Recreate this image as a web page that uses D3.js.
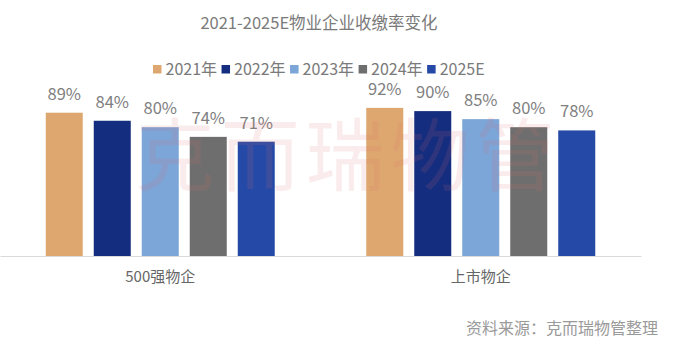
<!DOCTYPE html>
<html><head><meta charset="utf-8">
<script src="https://cdn.jsdelivr.net/npm/d3@7/dist/d3.min.js"></script>
<style>
html,body{margin:0;padding:0;background:#fff;}
svg{display:block;font-family:"Noto Sans CJK SC","Noto Sans",sans-serif;}
</style></head>
<body><svg id="c" width="678" height="358"></svg>
<script>
const categories = ["500强物企", "上市物企"];
const seriesNames = ["2021年", "2022年", "2023年", "2024年", "2025E"];
const values = {
  "2021年": [0.89, 0.92],
  "2022年": [0.84, 0.90],
  "2023年": [0.80, 0.85],
  "2024年": [0.74, 0.80],
  "2025E": [0.71, 0.78]
};
const colors = ["#dea76f", "#142d7f", "#7ca5d8", "#6e6e6e", "#2549a6"];
const title = "2021-2025E物业企业收缴率变化";
const source = "资料来源：克而瑞物管整理";
const watermark = "克而瑞物管";

const svg = d3.select("#c");
const plot = {left: 0, right: 641, top: 95, bottom: 256};
const groupWidth = 229;

const x0 = d3.scaleBand().domain(categories).range([plot.left, plot.right]).paddingInner(0).paddingOuter(0);
const x1 = d3.scaleBand().domain(seriesNames).range([0, groupWidth]).paddingInner(0.229).paddingOuter(0);
const groupOffset = (x0.bandwidth() - groupWidth) / 2;
const y = d3.scaleLinear().domain([0, 1]).range([plot.bottom, plot.top]);
const color = d3.scaleOrdinal().domain(seriesNames).range(colors);

// title
svg.append("text").attr("x", 319).attr("y", 29).attr("text-anchor", "middle")
  .attr("font-size", 16.5).attr("fill", "#7a7a7a").text(title);

// legend
const lg = svg.append("g");
let lx = 153;
seriesNames.forEach(s => {
  lg.append("rect").attr("x", lx).attr("y", 65).attr("width", 8.5).attr("height", 8.5).attr("fill", color(s));
  const t = lg.append("text").attr("x", lx + 12.5).attr("y", 75).attr("font-size", 16).attr("fill", "#7a7a7a").text(s);
  lx += 12.5 + t.node().getComputedTextLength() + 4.5;
});

// bars
const groups = svg.append("g").selectAll("g").data(categories).join("g")
  .attr("transform", d => `translate(${x0(d) + groupOffset},0)`);
groups.selectAll("rect").data((d, i) => seriesNames.map(s => ({s, v: values[s][i]})))
  .join("rect")
  .attr("x", d => x1(d.s)).attr("width", x1.bandwidth())
  .attr("y", d => y(d.v)).attr("height", d => y(0) - y(d.v))
  .attr("fill", d => color(d.s));
groups.selectAll("text").data((d, i) => seriesNames.map(s => ({s, v: values[s][i]})))
  .join("text")
  .attr("x", d => x1(d.s) + x1.bandwidth() / 2).attr("y", d => y(d.v) - 13)
  .attr("text-anchor", "middle").attr("font-size", 16.5).attr("fill", "#808080")
  .text(d => d3.format(".0%")(d.v));

// axis
const xAxis = d3.axisBottom(x0).tickSize(0).tickPadding(15);
const ax = svg.append("g").attr("transform", `translate(0,${plot.bottom})`).call(xAxis);
ax.select(".domain").attr("stroke", "#d9d9d9").attr("stroke-width", 1.2);
ax.selectAll("text").attr("font-size", 15).attr("fill", "#666").attr("font-family", "Noto Sans CJK SC");

// watermark
svg.append("text").attr("x", 348).attr("y", 185).attr("text-anchor", "middle")
  .attr("font-size", 79).attr("letter-spacing", 6).attr("fill", "#e07070").attr("opacity", 0.13)
  .text(watermark);

// source
svg.append("text").attr("x", 658).attr("y", 334).attr("text-anchor", "end")
  .attr("font-size", 16).attr("fill", "#9a9a9a").text(source);
</script>
</body></html>
